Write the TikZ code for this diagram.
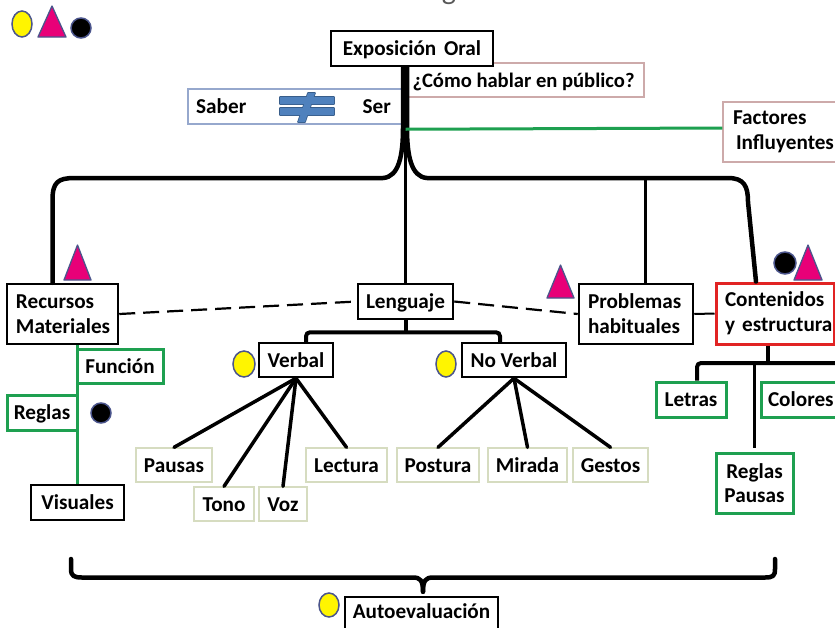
\documentclass[tikz,border=0pt]{standalone}
\usepackage{fontspec}
\setmainfont{Carlito}
\usetikzlibrary{calc}
\definecolor{grn}{RGB}{30,160,80}
\definecolor{redb}{RGB}{225,35,35}
\definecolor{magen}{RGB}{232,0,120}
\definecolor{outl}{RGB}{75,85,140}
\definecolor{pale}{RGB}{214,220,192}
\definecolor{pinkb}{RGB}{205,170,170}
\definecolor{bluegray}{RGB}{150,168,205}
\definecolor{eqblue}{RGB}{79,129,189}
\definecolor{eqedge}{RGB}{56,93,138}
\definecolor{ylw}{RGB}{255,245,0}
\begin{document}
\begin{tikzpicture}[x=1pt,y=-1pt,
  txt/.style={font=\fontsize{21.2}{25}\selectfont\bfseries, inner sep=0pt},
  box/.style={txt, rectangle, fill=white, align=center},
  blk/.style={box, draw=black, line width=2.5pt},
  pal/.style={box, draw=pale, line width=1.3pt},
  grb/.style={box, draw=grn, line width=3pt},
  thinpink/.style={box, draw=pinkb, line width=1.2pt},
  lft/.style={align=left, inner xsep=9pt, text width=#1},
  sz/.style args={#1x#2}{minimum width=#1, minimum height=#2},
  one/.style={text height=16pt, text depth=2pt},
  brace/.style={line width=4.5pt, line join=round, line cap=round},
  conn/.style={line width=3.5pt, line cap=round},
  dashline/.style={line width=2.2pt, dash pattern=on 16pt off 8pt},
  tri/.style={fill=magen, draw=outl, line width=1.3pt, line join=round},
  yel/.style={fill=ylw, draw=outl, line width=1.5pt},
  dot/.style={fill=black, draw=outl, line width=1.5pt},
]
\useasboundingbox (0,0) rectangle (835,627);
\fill[white] (0,0) rectangle (835,627);

% title fragment
\node[anchor=base, text=gray!70!black, font=\fontsize{30}{30}\selectfont, inner sep=0pt] (gfrag) at (449,-1) {g};

% legend symbols
\draw[yel] (22,24) ellipse [x radius=10, y radius=13];
\draw[tri] (38,37) -- (52,6) -- (66,37) -- cycle;
\draw[dot] (81,28) circle [radius=10];

% nodes
\node[thinpink, sz=241x34, one, font=\fontsize{20.6}{25}\selectfont\bfseries] (como) at (523.5,80) {¿Cómo hablar en público?};
\node[blk, sz=162x35, one] (expo) at (412,48.5) {Exposición\hspace{3pt} Oral};
\node[box, draw=bluegray, line width=1.2pt, sz=214x35] (saber) at (295,106.5) {};
\node[txt, one, anchor=west] (saberlbl) at (196,106.5) {Saber};
\node[txt, one, anchor=east] (serlbl) at (391,106.5) {Ser};
\node[thinpink, sz=117x60, lft=97pt, inner xsep=10pt] (fact) at (781.5,132) {\mbox{Factores}\\\mbox{\hspace*{3pt}Influyentes}};

\node[blk, sz=111x60, lft=93pt, inner xsep=8pt] (recursos) at (62.5,314) {\mbox{Recursos}\\\mbox{Materiales}};
\node[blk, sz=95x35, one] (leng) at (405.5,301.5) {Lenguaje};
\node[blk, sz=114x60, lft=96pt] (prob) at (636,314) {\mbox{Problemas}\\\mbox{habituales}};
\node[box, draw=redb, line width=3pt, sz=118x61, lft=100pt] (cont) at (775,313.5) {\mbox{Contenidos}\\\mbox{y estructura}};

\node[blk, sz=74x34, one] (verbal) at (296,360) {Verbal};
\node[blk, sz=104x34, one] (noverbal) at (514,360) {No Verbal};

\node[pal, sz=76x34, one] (pausas) at (174,465) {Pausas};
\node[pal, sz=60x34, one] (tono) at (224,504) {Tono};
\node[pal, sz=48x34, one] (voz) at (283,504) {Voz};
\node[pal, sz=81x34, one] (lectura) at (346.5,465) {Lectura};
\node[pal, sz=82x34, one] (postura) at (438,465) {Postura};
\node[pal, sz=79x34, one] (mirada) at (527.5,465) {Mirada};
\node[pal, sz=75x34, one] (gestos) at (610.5,465) {Gestos};

\node[grb, sz=70x35, one] (letras) at (691,399.5) {Letras};
\node[grb, sz=84x35, one, lft=70pt, inner xsep=7pt] (colores) at (803,399.5) {\mbox{Colores}};
\node[grb, sz=77x60, font=\fontsize{21.2}{23.5}\selectfont\bfseries] (rp) at (754.5,483) {Reglas\\Pausas};

\node[grb, sz=86x34, one] (funcion) at (120,366) {Función};
\node[grb, sz=70x35, one] (reglas) at (42,412.5) {Reglas};
\node[blk, sz=93x35, one] (visuales) at (77.5,502.5) {Visuales};

\node[blk, sz=153x46, text height=14pt, text depth=18pt] (autoeval) at (421.5,620) {Autoevaluación};

% not-equal sign
\draw[eqedge, line width=1.6pt, line join=round] (280,97) rectangle (334,104) (280,108) rectangle (334,115)
     (308,93) -- (315,93) -- (305,122) -- (298,122) -- cycle;
\fill[eqblue] (280,97) rectangle (334,104) (280,108) rectangle (334,115);
\fill[eqblue] (308,93) -- (315,93) -- (305,122) -- (298,122) -- cycle;

% other symbols
\draw[tri] (64,280) -- (77.5,245) -- (91,280) -- cycle;
\draw[tri] (547,298) -- (560.5,265) -- (574,298) -- cycle;
\draw[dot] (785,263) circle [radius=11];
\draw[tri] (794,280) -- (808,245) -- (822,280) -- cycle;
\draw[yel] (244,364) ellipse [x radius=11, y radius=13];
\draw[yel] (446,364) ellipse [x radius=10, y radius=13];
\draw[yel] (329,605) ellipse [x radius=10, y radius=12];
\draw[dot] (101,413) circle [radius=10];

% top brace
\coordinate (peak) at (leng.north |- expo.south);
\draw[brace] ($(recursos.north)+(-10,0)$) -- (52.5,200) .. controls (52.5,182) and (58,178) .. (75,178) -- (383,178) .. controls (399,177) and (403,155) .. (403,128) -- ($(peak)+(-2.5,0)$);
\draw[brace] ($(peak)+(1.5,0)$) -- (407,128) .. controls (407,155) and (411,177) .. (427,178) -- (728,178) .. controls (744,178) and (748,186) .. (748,202) -- ($(cont.north)+(-19,0)$);
\draw[line width=3pt] (peak) -- (leng.north);
\draw[line width=3pt] ($(prob.north)+(9,0)$) -- ++(0,-104);
\draw[grn, line width=3pt] ($(peak)+(0,62)$) -- (fact.west |- 0,128);

% dashed links
\draw[dashline] (recursos.east) -- (leng.west);
\draw[dashline] (leng.east) -- (prob.west);
\draw[line width=2pt] (prob.east) -- (cont.west);

% lenguaje children
\coordinate (lj) at ($(leng.south)+(0,12)$);
\draw[line width=4pt] (leng.south) -- (lj);
\draw[line width=4pt, rounded corners=4pt] ($(verbal.north)+(10,0)$) |- (lj) -| ($(noverbal.north)+(-14,0)$);
\foreach \t in {pausas,tono,voz,lectura} \draw[conn] (verbal.south) -- (\t.north);
\foreach \t in {postura,mirada,gestos} \draw[conn] (noverbal.south) -- (\t.north);

% contenidos children
\coordinate (cj) at ($(cont.south)+(-7,19)$);
\draw[line width=4pt] ($(cont.south)+(-7,0)$) -- (cj);
\draw[line width=4pt, rounded corners=4pt] ($(letras.north)+(6,0)$) |- (845,363);
\draw[line width=3pt] (rp.north |- cj) -- ($(rp.north)+(0,-4)$);

% left green
\draw[grn, line width=2.5pt] (recursos.south -| visuales.north) -- (visuales.north);

% bottom brace
\coordinate (cusp) at ($(autoeval.north)+(1.5,-4)$);
\draw[brace] (71,559) -- (71,569) .. controls (71,576) and (74,577.5) .. (82,577.5) -- (413,577.5) .. controls (420,577.5) and (423,580) .. (cusp);
\draw[brace] (cusp) .. controls (423,580) and (426,577.5) .. (433,577.5) -- (765,577.5) .. controls (773,577.5) and (775,576) .. (775,569) -- (775,559);
\end{tikzpicture}
\end{document}
